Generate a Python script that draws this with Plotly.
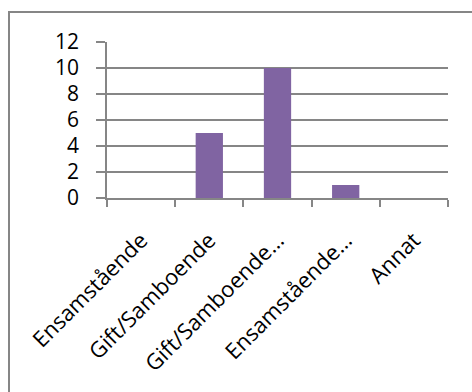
import plotly.graph_objects as go

categories = ["Ensamstående", "Gift/Samboende", "Gift/Samboende…", "Ensamstående…", "Annat"]
values = [0, 5, 10, 1, 0]
y_ticks = [0, 2, 4, 6, 8, 10, 12]

W, H = 472, 392
L, R, T, B = 107, 24, 42, 194
pw, ph = W - L - R, H - T - B

def px(x):
    return (x - L) / pw

def py(y):
    return (H - B - y) / ph

gray = "#868686"
fig = go.Figure(go.Bar(
    x=categories, y=values,
    marker=dict(color="#8064A2", line=dict(width=0)),
))

fig.update_layout(
    width=W, height=H,
    margin=dict(l=L, r=R, t=T, b=B, autoexpand=False),
    paper_bgcolor="white", plot_bgcolor="white",
    bargap=0.6, showlegend=False,
    font=dict(family="Open Sans", size=21, color="black"),
    shapes=[dict(type="rect", xref="paper", yref="paper",
                 x0=px(9), x1=px(482), y0=py(402), y1=py(12),
                 line=dict(color=gray, width=2), layer="below")],
)
fig.update_xaxes(
    type="category", tickangle=-45, tickson="boundaries",
    ticks="outside", ticklen=7, tickcolor=gray, tickwidth=1.5,
    showline=True, linecolor=gray, linewidth=1.5,
    showgrid=False, tickfont=dict(size=22), ticklabelstandoff=19,
)
fig.update_yaxes(
    range=[0, 12], tickvals=y_ticks, ticks="outside", ticklen=9,
    tickcolor=gray, tickwidth=1.5,
    showline=True, linecolor=gray, linewidth=1.5,
    showgrid=True, gridcolor=gray, gridwidth=1.5, zeroline=False,
    ticklabelstandoff=13, tickfont=dict(size=21),
)

fig.write_html("out.html")
